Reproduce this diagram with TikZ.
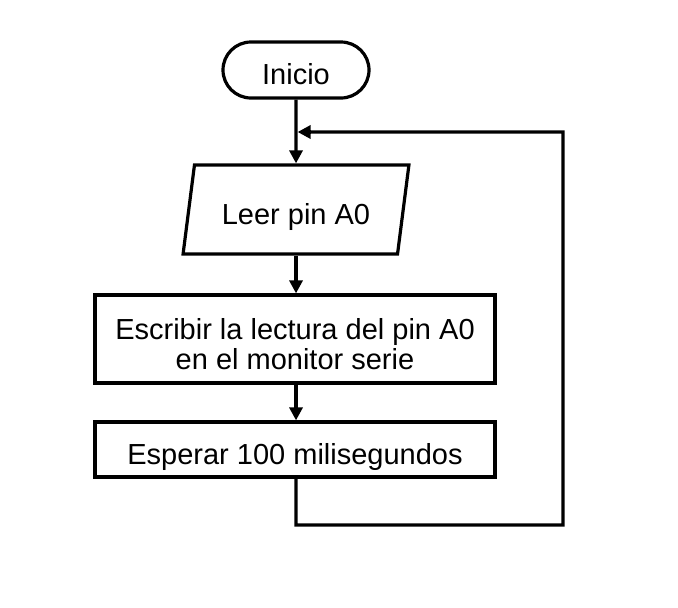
\documentclass[tikz,border=0pt]{standalone}
\usepackage{fontspec}
\setmainfont{Liberation Sans}
\usetikzlibrary{shapes.geometric,arrows.meta}

\begin{document}
\begin{tikzpicture}[
        x=1pt, y=-1pt,
        every node/.style={font=\fontsize{29}{30}\selectfont, align=center, inner sep=0pt,
            text height=29pt, text depth=0pt},
        block/.style={draw, line width=3.2pt},
        flow/.style={line width=3.2pt, -{Triangle[length=13pt,width=13pt]}},
        line/.style={line width=3.2pt}
    ]
        \useasboundingbox (0,0) rectangle (678,608);
        \node [block, rounded corners=28pt, minimum width=146pt, minimum height=56pt]
            (inicio) at (296,70) {Inicio};
        \node [block, trapezium, trapezium left angle=74, trapezium right angle=106,
            trapezium stretches=true, minimum width=226pt, minimum height=89pt]
            (leer) at (296,209.5) {Leer pin A0};
        \node [block, minimum width=400pt, minimum height=88pt, text height=60pt]
            (escribir) at (295,339) {Escribir la lectura del pin A0\\en el monitor serie};
        \node [block, minimum width=400pt, minimum height=55pt]
            (esperar) at (295,449.5) {Esperar 100 milisegundos};
        \coordinate (join) at (296,132);
        \coordinate (loopa) at (296,525);
        \coordinate (loopb) at (563,525);
        \coordinate (loopc) at (563,132);

        \draw [flow] (inicio.south) -- (leer.north);
        \draw [flow] (leer.south) -- (leer.south |- escribir.north);
        \draw [flow] (escribir.south -| leer.south) -- (leer.south |- esperar.north);
        \draw [line, line join=miter] (leer.south |- esperar.south) -- (loopa) -- (loopb) -- (loopc)
            -- ([xshift=14pt]join);
        \draw [flow] ([xshift=14pt]join) -- ([xshift=1.6pt]join);
    \end{tikzpicture}
\end{document}
